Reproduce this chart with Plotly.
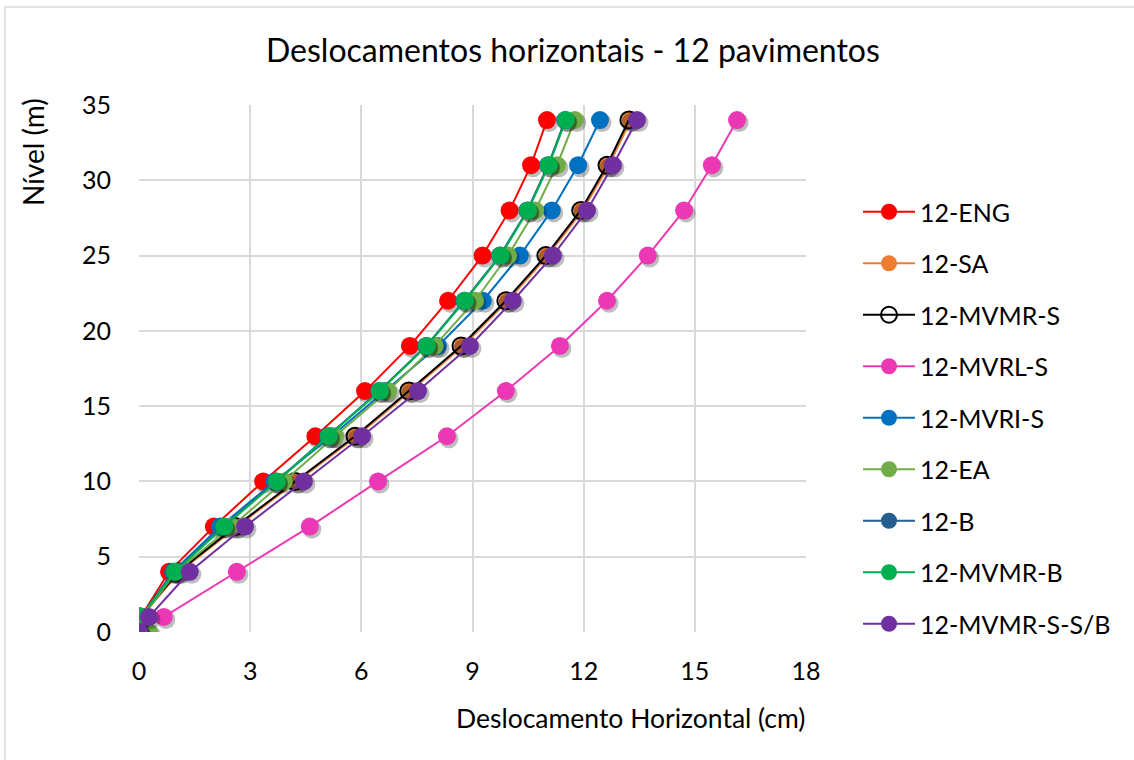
import plotly.graph_objects as go

# Floor levels (m)
levels = [0, 1, 4, 7, 10, 13, 16, 19, 22, 25, 28, 31, 34]

# Horizontal displacement per model (cm)
eng = [0, 0.05, 0.81, 2.02, 3.35, 4.76, 6.10, 7.31, 8.34, 9.27, 10.00, 10.58, 11.01]
sa = [0, 0.05, 1.10, 2.64, 4.26, 5.88, 7.33, 8.74, 9.95, 11.03, 11.97, 12.68, 13.27]
mvmr_s = [0, 0.05, 1.06, 2.60, 4.21, 5.83, 7.28, 8.69, 9.90, 10.98, 11.92, 12.63, 13.22]
mvrl_s = [0, 0.67, 2.64, 4.61, 6.45, 8.31, 9.90, 11.36, 12.63, 13.73, 14.71, 15.46, 16.14]
mvri_s = [0, 0.05, 0.92, 2.19, 3.66, 5.20, 6.64, 8.07, 9.28, 10.28, 11.14, 11.85, 12.44]
ea = [0.27, 0.10, 1.00, 2.50, 3.91, 5.29, 6.72, 7.98, 9.07, 9.96, 10.69, 11.28, 11.76]
b = [0, 0.05, 0.95, 2.28, 3.70, 5.10, 6.48, 7.75, 8.78, 9.74, 10.48, 11.04, 11.50]
mvmr_b = [0, 0.05, 0.97, 2.30, 3.72, 5.12, 6.50, 7.77, 8.80, 9.76, 10.50, 11.06, 11.52]
mvmr_ssb = [0, 0.27, 1.37, 2.86, 4.45, 6.02, 7.53, 8.93, 10.09, 11.17, 12.09, 12.79, 13.44]

series_names = ["12-ENG", "12-SA", "12-MVMR-S", "12-MVRL-S", "12-MVRI-S",
                "12-EA", "12-B", "12-MVMR-B", "12-MVMR-S-S/B"]
series_values = [eng, sa, mvmr_s, mvrl_s, mvri_s, ea, b, mvmr_b, mvmr_ssb]
series_colors = ["#FF0000", "#ED7D31", "#000000", "#EC38B4", "#0070C0",
                 "#70AD47", "#255E91", "#00B050", "#7030A0"]

x_ticks = [0, 3, 6, 9, 12, 15, 18]
y_ticks = [0, 5, 10, 15, 20, 25, 30, 35]

FONT = "Lato"
W, H = 1134, 760
L, R, T, B = 139, 1134 - 806, 105, 760 - 632
pw = W - L - R
ph = H - T - B

# marker drop shadow offset, converted from pixels to data units
SH_DX = 2.0 * 18 / pw
SH_DY = -2.5 * 35 / ph

fig = go.Figure()
for name, vals, col in zip(series_names, series_values, series_colors):
    fig.add_trace(go.Scatter(
        x=[v + SH_DX for v in vals], y=[lv + SH_DY for lv in levels],
        mode="markers", showlegend=False, hoverinfo="skip",
        marker=dict(symbol="circle", size=19, color="rgba(0,0,0,0.26)", line=dict(width=0)),
    ))
    if name == "12-MVMR-S":
        marker = dict(symbol="circle-open", size=17, color=col, line=dict(width=2, color=col))
    else:
        marker = dict(symbol="circle", size=18, color=col, line=dict(width=0))
    fig.add_trace(go.Scatter(
        x=vals, y=levels, name=name, mode="lines+markers",
        line=dict(color=col, width=2), marker=marker,
        legendgroup=name,
    ))

fig.update_layout(
    width=W, height=H,
    margin=dict(l=L, r=R, t=T, b=B),
    paper_bgcolor="white", plot_bgcolor="white",
    font=dict(family=FONT, color="#000000"),
    showlegend=True,
    legend=dict(
        xref="container", yref="container",
        x=858 / W, y=1 - 189 / H, xanchor="left", yanchor="top",
        font=dict(size=25, family=FONT, color="#000000"),
        itemwidth=52, tracegroupgap=16, itemsizing="trace",
        bgcolor="rgba(0,0,0,0)", maxheight=700,
    ),
    xaxis=dict(
        range=[0, 18], tickvals=x_ticks, ticktext=[str(v) for v in x_ticks],
        showgrid=True, gridcolor="#D9D9D9", gridwidth=1.5,
        zeroline=False, showline=False, ticks="",
        tickfont=dict(size=25, family=FONT, color="#000000"),
        ticklabelstandoff=22,
    ),
    yaxis=dict(
        range=[0, 35], tickvals=y_ticks, ticktext=[str(v) for v in y_ticks],
        showgrid=True, gridcolor="#D9D9D9", gridwidth=1.5,
        zeroline=False, showline=False, ticks="",
        tickfont=dict(size=25, family=FONT, color="#000000"),
        ticklabelstandoff=27,
    ),
    annotations=[
        dict(text="Deslocamentos horizontais - 12 pavimentos",
             xref="paper", yref="paper",
             x=(573 - L) / pw, y=1 + (T - 50) / ph, xanchor="center", yanchor="middle",
             showarrow=False, font=dict(size=32, family=FONT, color="#000000")),
        dict(text="Deslocamento Horizontal (cm)",
             xref="paper", yref="paper",
             x=(630 - L) / pw, y=-(718 - (H - B)) / ph, xanchor="center", yanchor="middle",
             showarrow=False, font=dict(size=26.5, family=FONT, color="#000000")),
        dict(text="Nível (m)", textangle=-90,
             xref="paper", yref="paper",
             x=-(L - 33) / pw, y=1 - (152 - T) / ph, xanchor="center", yanchor="middle",
             showarrow=False, font=dict(size=28, family=FONT, color="#000000")),
    ],
    shapes=[
        dict(type="rect", xref="paper", yref="paper",
             x0=(5 - L) / pw, x1=(1140 - L) / pw,
             y0=-(765 - (H - B)) / ph, y1=1 + (T - 7) / ph,
             line=dict(color="#D9D9D9", width=1.5), fillcolor="rgba(0,0,0,0)", layer="below"),
    ],
)

fig.write_html("out.html")
